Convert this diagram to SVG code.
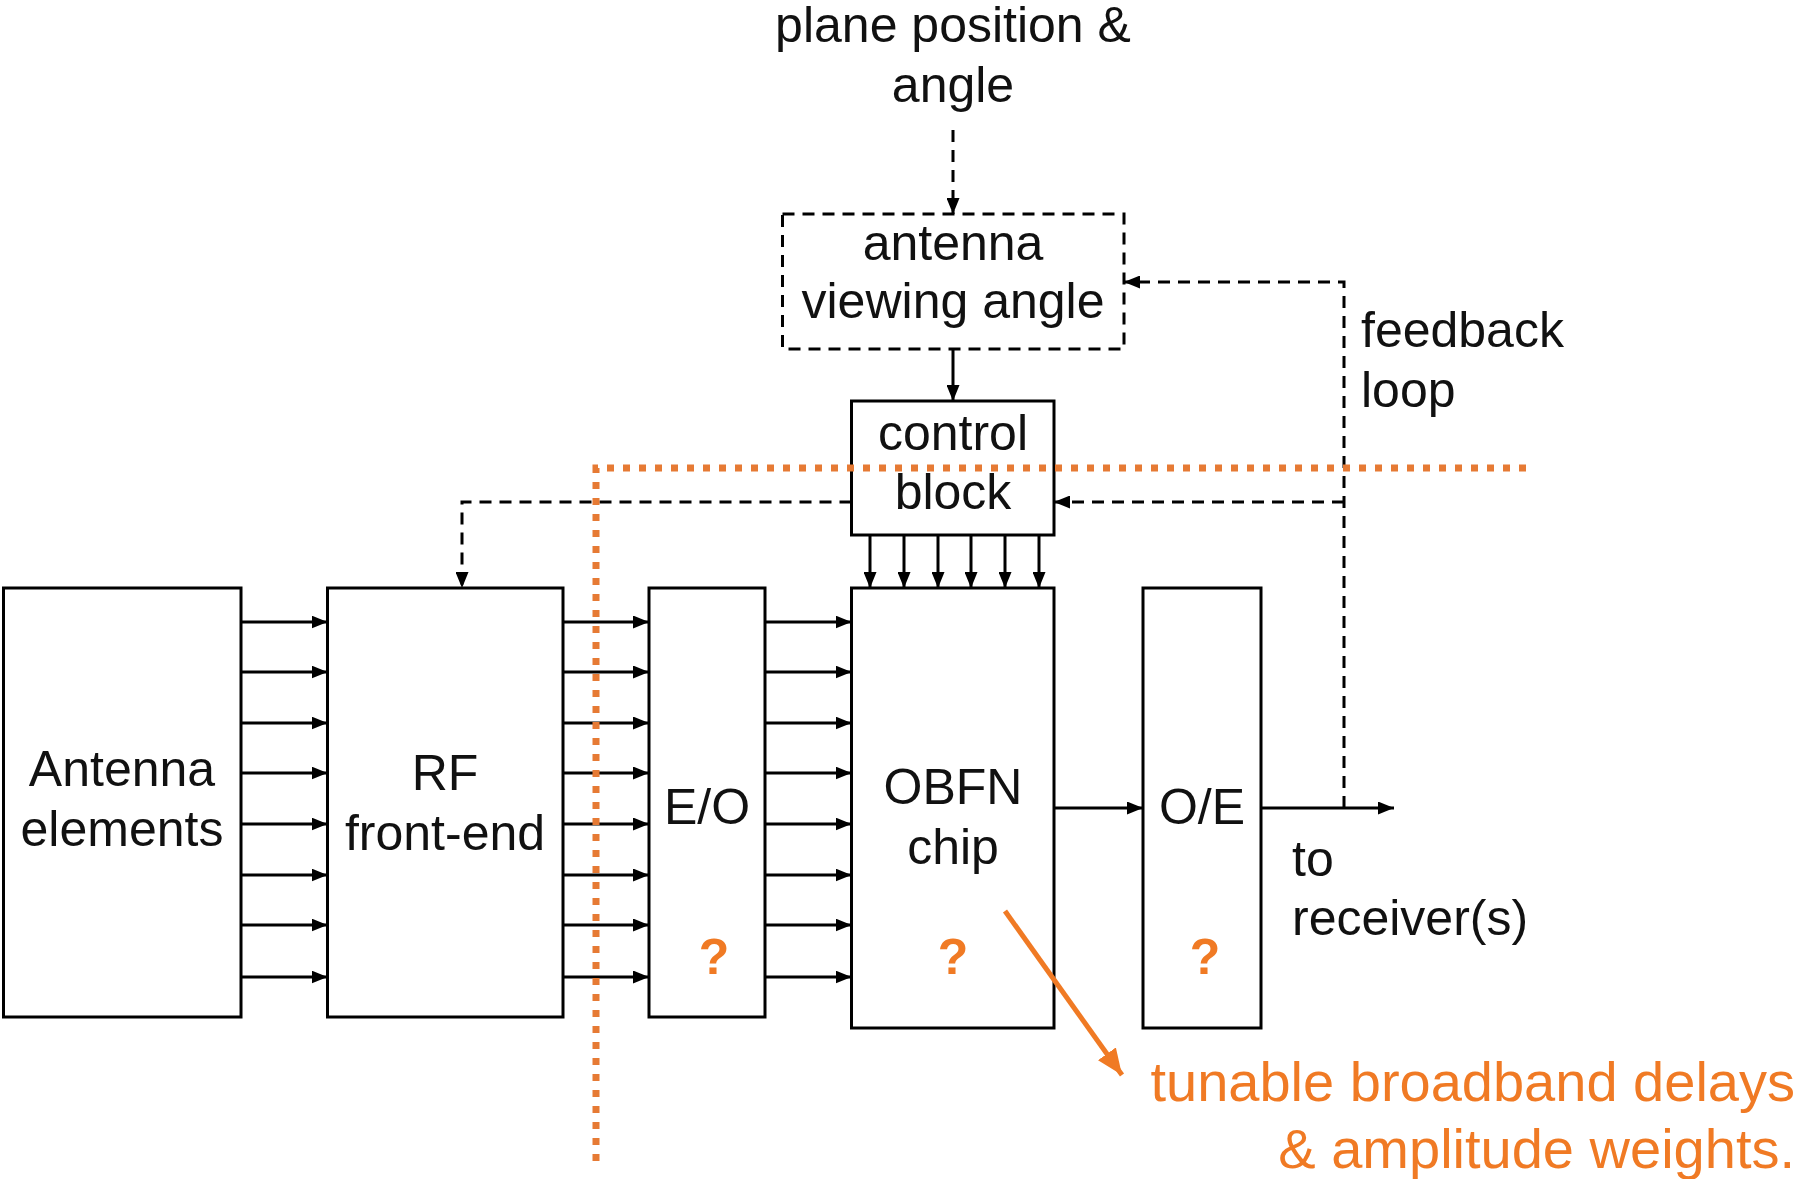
<svg xmlns="http://www.w3.org/2000/svg" width="1802" height="1179" viewBox="0 0 1802 1179">
<defs>
<style>
.box{fill:#fff;stroke:#000;stroke-width:3}
.dbox{fill:none;stroke:#000;stroke-width:3;stroke-dasharray:12 8}
.t{font-family:"Liberation Sans",Arial,sans-serif;font-size:50px;fill:#111;text-anchor:middle}
.tl{font-family:"Liberation Sans",Arial,sans-serif;font-size:50px;fill:#111}
.q{font-family:"Liberation Sans",Arial,sans-serif;font-size:50px;font-weight:bold;fill:#F07A24;text-anchor:middle}
.o{font-family:"Liberation Sans",Arial,sans-serif;font-size:56px;fill:#F07A24;text-anchor:end}
.w{stroke:#000;stroke-width:3;fill:none;marker-end:url(#ah)}
.d{stroke:#000;stroke-width:3;fill:none;stroke-dasharray:12 8}
.dot{stroke:#E67A34;stroke-width:7;stroke-dasharray:7 9;fill:none}
</style>
<marker id="ah" markerUnits="userSpaceOnUse" markerWidth="16" markerHeight="13" refX="16" refY="6.5" orient="auto"><path d="M0,0 L16,6.5 L0,13 z" fill="#000"/></marker>
<marker id="oah" markerUnits="userSpaceOnUse" markerWidth="26" markerHeight="22" refX="26" refY="11" orient="auto"><path d="M0,0 L26,11 L0,22 z" fill="#F07A24"/></marker>
</defs>
<rect width="1802" height="1179" fill="#fff"/>

<g id="antenna-elements"><rect class="box" x="3.5" y="588" width="237.5" height="429"/><text class="t" x="122" y="786">Antenna</text><text class="t" x="122" y="846">elements</text></g>
<g id="rf-front-end"><rect class="box" x="327.5" y="588" width="235.5" height="429"/><text class="t" x="445" y="790">RF</text><text class="t" x="445" y="850">front-end</text></g>
<g id="eo"><rect class="box" x="649" y="588" width="116" height="429"/><text class="t" x="707" y="824">E/O</text><text class="q" x="714" y="974">?</text></g>
<g id="obfn-chip"><rect class="box" x="851.5" y="588" width="202.5" height="440"/><text class="t" x="953" y="804">OBFN</text><text class="t" x="953" y="864">chip</text><text class="q" x="953" y="974">?</text></g>
<g id="oe"><rect class="box" x="1143" y="588" width="118" height="440"/><text class="t" x="1202" y="824">O/E</text><text class="q" x="1205" y="974">?</text></g>
<g id="control-block"><rect class="box" x="851.5" y="401" width="202.5" height="134"/><text class="t" x="953" y="450">control</text><text class="t" x="953" y="509">block</text></g>
<g id="viewing-angle"><rect class="dbox" x="782.5" y="214" width="341.5" height="135"/><text class="t" x="953" y="260">antenna</text><text class="t" x="953" y="318">viewing angle</text></g>
<g id="plane-position"><text class="t" x="953" y="42">plane position &amp;</text><text class="t" x="953" y="102">angle</text></g>
<g id="feedback-label"><text class="tl" x="1361" y="347">feedback</text><text class="tl" x="1361" y="407">loop</text></g>
<g id="receiver-label"><text class="tl" x="1292" y="876">to</text><text class="tl" x="1292" y="935">receiver(s)</text></g>
<g id="annotation"><text class="o" x="1795" y="1101">tunable broadband delays</text><text class="o" x="1795" y="1168">&amp; amplitude weights.</text></g>

<g id="connectors">
<line class="w" x1="241" y1="622" x2="327.5" y2="622"/>
<line class="w" x1="241" y1="672" x2="327.5" y2="672"/>
<line class="w" x1="241" y1="723" x2="327.5" y2="723"/>
<line class="w" x1="241" y1="773" x2="327.5" y2="773"/>
<line class="w" x1="241" y1="824" x2="327.5" y2="824"/>
<line class="w" x1="241" y1="875" x2="327.5" y2="875"/>
<line class="w" x1="241" y1="925" x2="327.5" y2="925"/>
<line class="w" x1="241" y1="977" x2="327.5" y2="977"/>
<line class="w" x1="563" y1="622" x2="649" y2="622"/>
<line class="w" x1="563" y1="672" x2="649" y2="672"/>
<line class="w" x1="563" y1="723" x2="649" y2="723"/>
<line class="w" x1="563" y1="773" x2="649" y2="773"/>
<line class="w" x1="563" y1="824" x2="649" y2="824"/>
<line class="w" x1="563" y1="875" x2="649" y2="875"/>
<line class="w" x1="563" y1="925" x2="649" y2="925"/>
<line class="w" x1="563" y1="977" x2="649" y2="977"/>
<line class="w" x1="765" y1="622" x2="851.5" y2="622"/>
<line class="w" x1="765" y1="672" x2="851.5" y2="672"/>
<line class="w" x1="765" y1="723" x2="851.5" y2="723"/>
<line class="w" x1="765" y1="773" x2="851.5" y2="773"/>
<line class="w" x1="765" y1="824" x2="851.5" y2="824"/>
<line class="w" x1="765" y1="875" x2="851.5" y2="875"/>
<line class="w" x1="765" y1="925" x2="851.5" y2="925"/>
<line class="w" x1="765" y1="977" x2="851.5" y2="977"/>
<line class="w" x1="870" y1="535" x2="870" y2="588"/>
<line class="w" x1="904" y1="535" x2="904" y2="588"/>
<line class="w" x1="938" y1="535" x2="938" y2="588"/>
<line class="w" x1="971" y1="535" x2="971" y2="588"/>
<line class="w" x1="1005" y1="535" x2="1005" y2="588"/>
<line class="w" x1="1039" y1="535" x2="1039" y2="588"/>
<line class="w" x1="1054" y1="808" x2="1143" y2="808"/>
<line class="w" x1="1261" y1="808" x2="1394" y2="808"/>
<line class="w" x1="953" y1="349" x2="953" y2="401"/>
<line class="d" x1="953" y1="130" x2="953" y2="214" style="marker-end:url(#ah)"/>
<path class="d" d="M1344,808V282H1124" style="marker-end:url(#ah)"/>
<path class="d" d="M1344,502H1054" style="marker-end:url(#ah)"/>
<path class="d" d="M851.5,502H462V588" style="marker-end:url(#ah)"/>
<line x1="1005" y1="911" x2="1122" y2="1075" stroke="#F07A24" stroke-width="5" marker-end="url(#oah)"/>
<path class="dot" d="M596,1161V468H1528"/>
</g>
</svg>
